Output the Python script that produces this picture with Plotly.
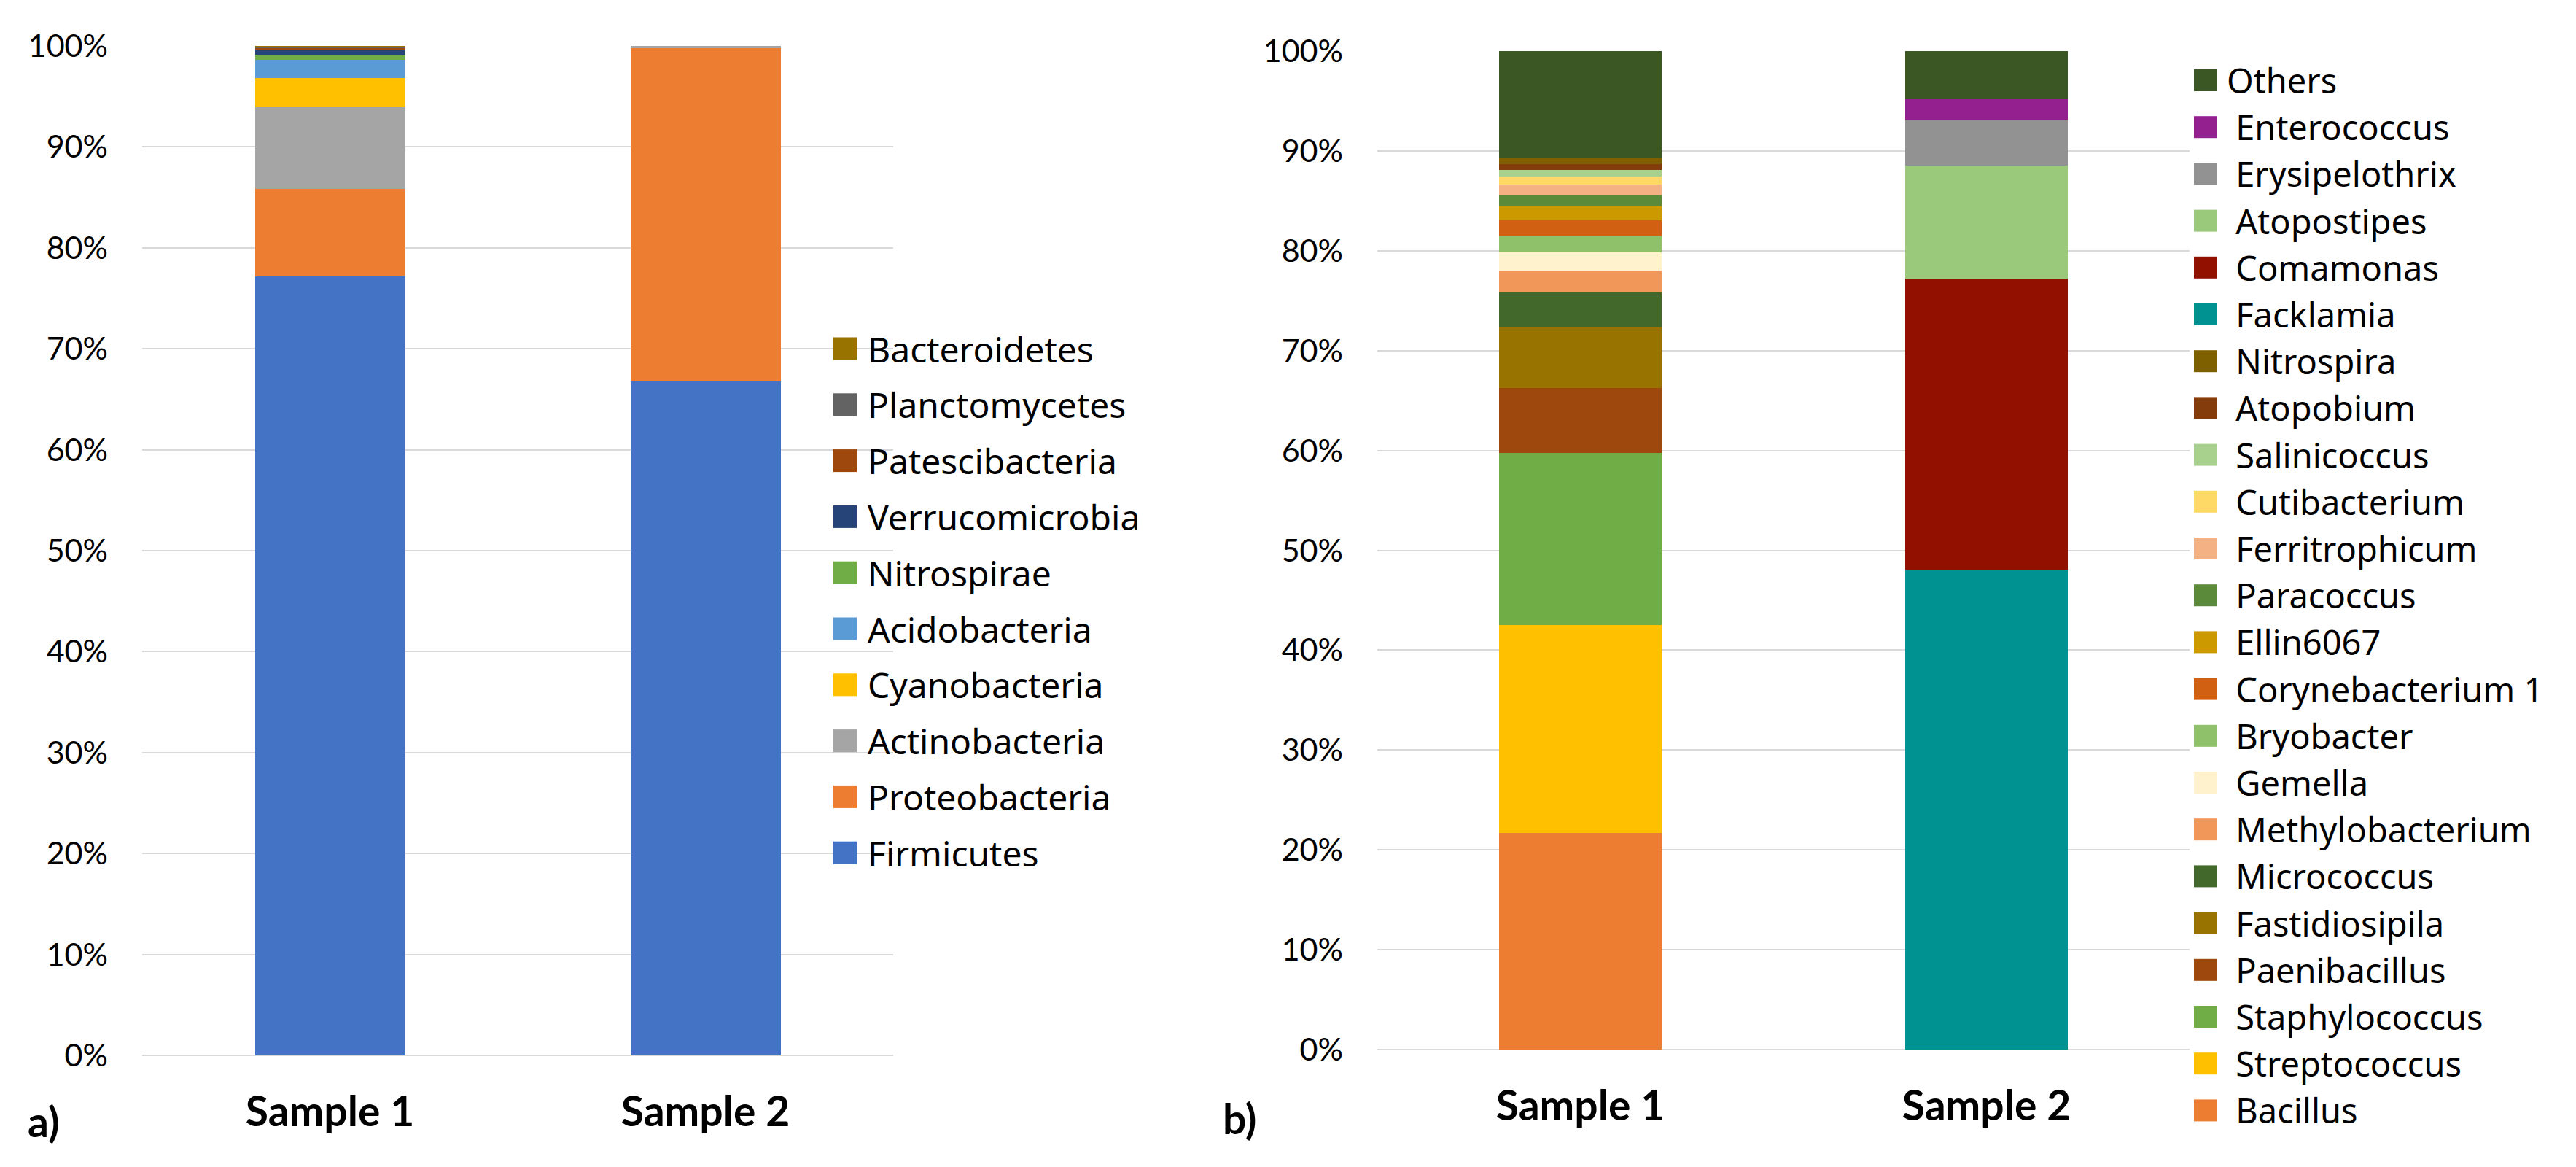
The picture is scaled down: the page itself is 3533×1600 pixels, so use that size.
import plotly.graph_objects as go

W, H = 3533, 1600
OFF = 8  # default page margin around the plot div
FW, FH = W - 2 * OFF, H - 2 * OFF

samples = ["Sample 1", "Sample 2"]

# ---- panel a) : phyla (stack order bottom -> top)
phyla = ["Firmicutes", "Proteobacteria", "Actinobacteria", "Cyanobacteria", "Acidobacteria",
         "Nitrospirae", "Verrucomicrobia", "Patescibacteria", "Planctomycetes", "Bacteroidetes"]
phyla_sample1 = [77.2, 8.7, 8.1, 2.9, 1.8, 0.5, 0.4, 0.3, 0.05, 0.1]
phyla_sample2 = [66.75, 33.0, 0.25, 0, 0, 0, 0, 0, 0, 0]
phyla_colors = ["#4472C4", "#ED7D31", "#A5A5A5", "#FFC000", "#5B9BD5",
                "#70AD47", "#264478", "#9E480E", "#636363", "#997300"]

# ---- panel b) : genera (stack order bottom -> top)
genera = ["Bacillus", "Streptococcus", "Staphylococcus", "Paenibacillus", "Fastidiosipila",
          "Micrococcus", "Methylobacterium", "Gemella", "Bryobacter", "Corynebacterium 1",
          "Ellin6067", "Paracoccus", "Ferritrophicum", "Cutibacterium", "Salinicoccus",
          "Atopobium", "Nitrospira", "Facklamia", "Comamonas", "Atopostipes",
          "Erysipelothrix", "Enterococcus", "Others"]
genera_legend_labels = [" Bacillus", " Streptococcus", " Staphylococcus", " Paenibacillus", " Fastidiosipila",
                        " Micrococcus", " Methylobacterium", " Gemella", " Bryobacter", " Corynebacterium 1",
                        " Ellin6067", " Paracoccus", " Ferritrophicum", " Cutibacterium", " Salinicoccus",
                        " Atopobium", " Nitrospira", " Facklamia", " Comamonas", " Atopostipes",
                        " Erysipelothrix", " Enterococcus", "Others"]
genera_sample1 = [21.7, 20.8, 17.2, 6.5, 6.1, 3.5, 2.1, 1.9, 1.7, 1.5,
                  1.5, 1.0, 1.1, 0.75, 0.7, 0.6, 0.6, 0, 0, 0, 0, 0, 10.7]
genera_sample2 = [0, 0, 0, 0, 0, 0, 0, 0, 0, 0,
                  0, 0, 0, 0, 0, 0, 0, 48.1, 29.1, 11.3, 4.6, 2.1, 4.8]
genera_colors = ["#ED7D31", "#FFC000", "#70AD47", "#9E480E", "#997300",
                 "#43682B", "#F1975A", "#FFF2CC", "#8FC16A", "#D26012",
                 "#CC9900", "#5A8A3A", "#F4B183", "#FFD966", "#A9D18E",
                 "#843C0C", "#7F6000", "#009290", "#921000", "#9BC97C",
                 "#929292", "#941F8E", "#3A5724"]

TICK_FONT = dict(family="Lato", size=43, color="#000000")
CAT_FONT = dict(family="Lato", size=57, color="#000000")
LEG_FONT_FAMILY = "Noto Sans"
GRID = "#D9D9D9"


def fx(px):
    return (px - OFF) / FW


def fy(py):
    return 1 - (py - OFF) / FH


fig = go.Figure()

for name, v1, v2, col in zip(phyla, phyla_sample1, phyla_sample2, phyla_colors):
    fig.add_trace(go.Bar(x=samples, y=[v1, v2], name=name, marker=dict(color=col, line=dict(width=0)),
                         xaxis="x", yaxis="y", showlegend=False))

for name, v1, v2, col in zip(genera, genera_sample1, genera_sample2, genera_colors):
    fig.add_trace(go.Bar(x=samples, y=[v1, v2], name=name, marker=dict(color=col, line=dict(width=0)),
                         xaxis="x2", yaxis="y2", showlegend=False))

yaxis_common = dict(range=[0, 100], dtick=10, ticksuffix="%", showgrid=True, gridcolor=GRID,
                    gridwidth=2, zeroline=True, zerolinecolor=GRID, zerolinewidth=2,
                    showline=False, ticks="", tickfont=TICK_FONT, ticklabelstandoff=46,
                    fixedrange=True, automargin=False)
xaxis_common = dict(showline=False, ticks="", showgrid=False, tickfont=dict(CAT_FONT, weight="bold"),
                    ticklabelstandoff=39, fixedrange=True, automargin=False)

# custom legends (large square swatches like the original)
shapes = []
annotations = []

# legend a): top item is the last in stack order
for i, (name, col) in enumerate(zip(phyla[::-1], phyla_colors[::-1])):
    yc = 478 + i * 76.8
    shapes.append(dict(type="rect", xref="paper", yref="paper",
                       x0=fx(1143), x1=fx(1175), y0=fy(yc + 15.5), y1=fy(yc - 15.5),
                       fillcolor=col, line=dict(width=0)))
    annotations.append(dict(xref="paper", yref="paper", x=fx(1188), y=fy(yc), text=name,
                            showarrow=False, xanchor="left", yanchor="middle",
                            font=dict(family=LEG_FONT_FAMILY, size=48, color="#000000")))

# legend b)
for i, (label, col) in enumerate(zip(genera_legend_labels[::-1], genera_colors[::-1])):
    yc = 110 + i * 64.2
    shapes.append(dict(type="rect", xref="paper", yref="paper",
                       x0=fx(3009), x1=fx(3040), y0=fy(yc + 15), y1=fy(yc - 15),
                       fillcolor=col, line=dict(width=0)))
    txt = label.replace(" ", "\u00a0", 1) if label.startswith(" ") else label
    annotations.append(dict(xref="paper", yref="paper", x=fx(3052), y=fy(yc), text=txt,
                            showarrow=False, xanchor="left", yanchor="middle",
                            font=dict(family=LEG_FONT_FAMILY, size=47, color="#000000")))

# panel labels
annotations.append(dict(xref="paper", yref="paper", x=fx(60), y=fy(1537), text="a)", showarrow=False,
                        xanchor="center", yanchor="middle",
                        font=dict(family="Lato", size=57, color="#000000", weight="bold")))
annotations.append(dict(xref="paper", yref="paper", x=fx(1700), y=fy(1533), text="b)", showarrow=False,
                        xanchor="center", yanchor="middle",
                        font=dict(family="Lato", size=57, color="#000000", weight="bold")))

fig.update_layout(
    template="none",
    width=FW, height=FH, autosize=False,
    margin=dict(l=0, r=0, t=0, b=0, pad=0),
    paper_bgcolor="white", plot_bgcolor="white",
    barmode="stack", barnorm="percent", bargap=0.6,
    xaxis=dict(xaxis_common, domain=[fx(195), fx(1225)], anchor="y"),
    yaxis=dict(yaxis_common, domain=[fy(1447), fy(63)], anchor="x"),
    xaxis2=dict(xaxis_common, domain=[fx(1889), fx(3003)], anchor="y2"),
    yaxis2=dict(yaxis_common, domain=[fy(1439), fy(70)], anchor="x2"),
    shapes=shapes,
    annotations=annotations,
    showlegend=False,
)

fig.write_html("out.html")
